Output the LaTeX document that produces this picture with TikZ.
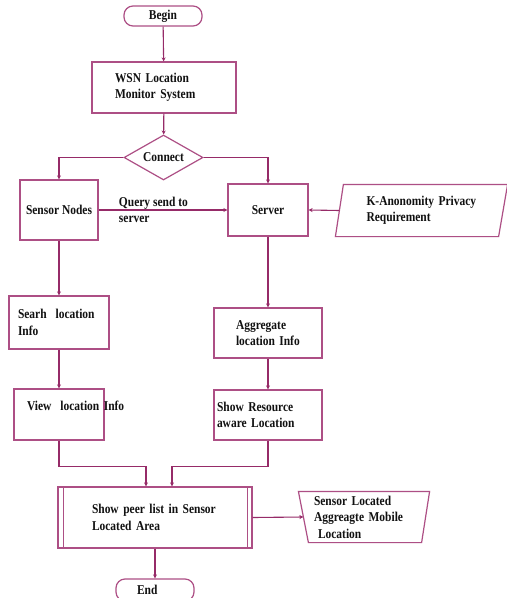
\documentclass[tikz,border=0pt]{standalone}
\usepackage{fontspec}
\setmainfont{Liberation Serif}[FakeStretch=0.85]
\usetikzlibrary{shapes.geometric,arrows.meta}
\definecolor{pcFFFFFF}{HTML}{FFFFFF}
\definecolor{pc962B68}{HTML}{962B68}
\definecolor{pcAD4F85}{HTML}{AD4F85}
\definecolor{pc111111}{HTML}{111111}

\begin{document}
\begin{tikzpicture}[x=1bp,y=-1bp,
  txt/.style={text=pc111111, font=\bfseries\fontsize{13.5bp}{16.5bp}\selectfont},
  rim/.style={draw=pcAD4F85, line width=1.2bp},
  box/.style={txt, rim, inner sep=0, align=left},
  flow/.style={draw=pc962B68, line width=1.1bp, -{Stealth[length=4bp,width=4bp]}}]
\path[use as bounding box] (0,0) rectangle (507,598);
\path[fill=pcFFFFFF] (0,0) rectangle (507,598);
\node[box, rounded corners=9bp, minimum width=78bp, minimum height=20bp, align=center] (begin) at (163,16) {Begin};
\node[box, minimum width=144bp, minimum height=51bp, text width=98bp] (wsn) at (164,87.5) {WSN Location\\Monitor System};
\node[box, diamond, aspect=1.75, minimum width=79bp, minimum height=45bp, align=center] (connect) at (163.5,157.5) {Connect};
\node[box, minimum width=78bp, minimum height=60bp, align=center] (sensor) at (59,210) {Sensor Nodes};
\node[box, minimum width=80bp, minimum height=52bp, align=center] (server) at (268,210) {Server};
\node[box, draw=none, minimum width=171bp, minimum height=51bp, text width=110bp] (kanon) at (421.5,210.5) {K-Anonomity Privacy\\Requirement};
\draw[rim] ([xshift=8bp]kanon.north west) -- (kanon.north east) -- ([xshift=-9bp]kanon.south east) -- (kanon.south west) -- cycle;
\node[box, minimum width=100bp, minimum height=53bp, text width=82bp] (searh) at (59,322.5) {Searh\ \ location\\Info};
\node[box, minimum width=90bp, minimum height=51bp, text width=64bp, text depth=17bp] (view) at (59,414.5) {\mbox{View\ \ location Info}};
\node[box, minimum width=108bp, minimum height=50bp, text width=64bp] (aggr) at (268,333) {Aggregate\\location Info};
\node[box, minimum width=108bp, minimum height=50bp, text width=102bp] (showres) at (268,415) {Show Resource\\aware Location};
\node[box, minimum width=194bp, minimum height=61bp, text width=126bp] (peer) at (155,517.5) {Show peer list in Sensor\\Located Area};
\draw[rim] ([xshift=6bp]peer.north west) -- ([xshift=6bp]peer.south west) ([xshift=-5bp]peer.north east) -- ([xshift=-5bp]peer.south east);
\node[box, draw=none, minimum width=130bp, minimum height=50bp, text width=100bp] (out) at (364,517) {Sensor Located\\Aggreagte Mobile\\\hspace*{4bp}Location};
\draw[rim] (out.north west) -- (out.north east) -- ([xshift=-8bp]out.south east) -- ([xshift=10bp]out.south west) -- cycle;
\node[box, rounded corners=9bp, minimum width=78bp, minimum height=22bp, text width=36bp] (endn) at (155,590) {End};
\draw[flow] (begin) -- (wsn);
\draw[flow] (wsn) -- (connect);
\draw[flow] (connect.west) -| (sensor.north);
\draw[flow] (connect.east) -| (server.north);
\draw[flow] (sensor.east) -- node[txt, anchor=west, align=left, pos=0.154, inner sep=0] (query) {Query send to\\server} (server.west);
\draw[flow] ([xshift=4bp]kanon.west) -- (server.east);
\draw[flow] (sensor) -- (searh);
\draw[flow] (searh) -- (view);
\draw[flow] (server) -- (aggr);
\draw[flow] (aggr) -- (showres);
\draw[flow] (view.south) -- ++(0,26) -| ([xshift=-9bp]peer.north);
\draw[flow] (showres.south) -- ++(0,26) -| ([xshift=17bp]peer.north);
\draw[flow] (peer.east) -- ([xshift=5bp]out.west);
\draw[flow] (peer) -- (endn);
\end{tikzpicture}
\end{document}
